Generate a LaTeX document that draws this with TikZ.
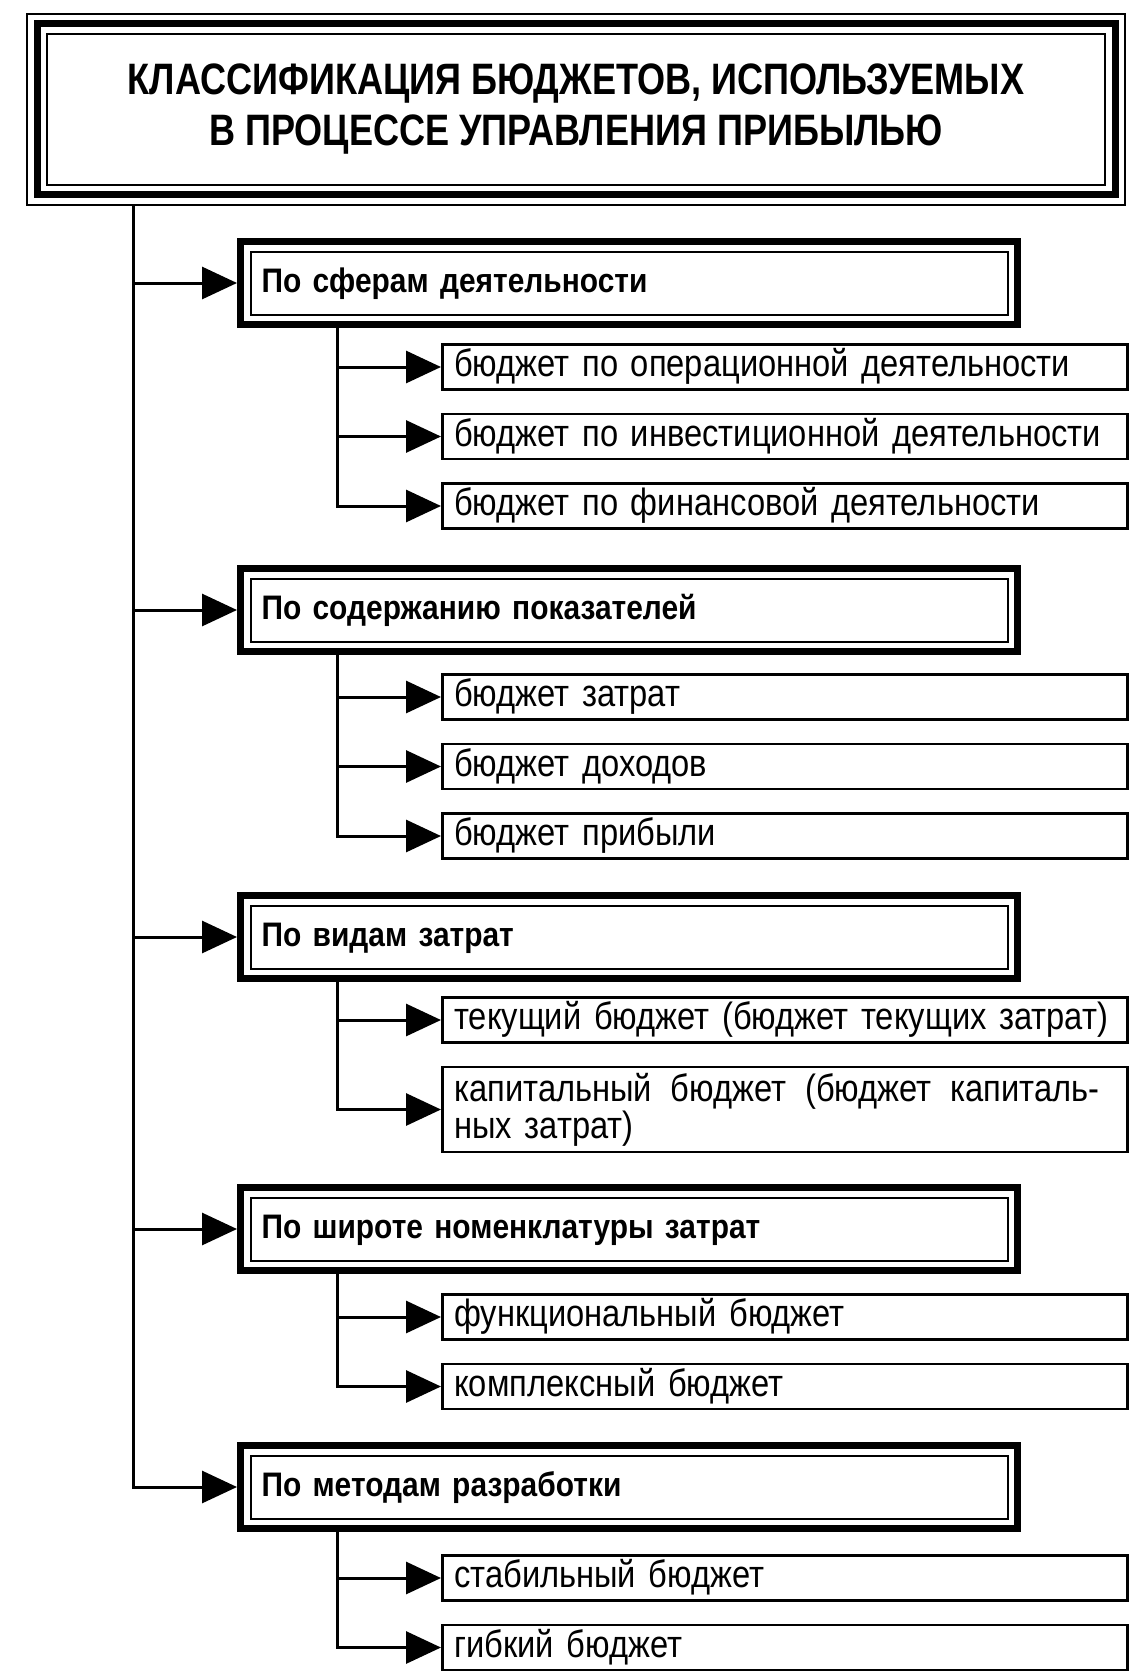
\documentclass[tikz,border=0pt]{standalone}
\usepackage{fontspec}
\setmainfont{Liberation Sans}[FakeStretch=0.86]
\newfontfamily\catfont{Liberation Sans}[FakeStretch=0.88]
\newfontfamily\headfont{Liberation Sans}[FakeStretch=0.82]
\usetikzlibrary{
	positioning,
	arrows.meta
}

\begin{document}
\begin{tikzpicture}[
		x=1pt, y=1pt,
		titlebox/.style={draw, line width=7pt, minimum width=1078pt, minimum height=171pt,
			align=center, font=\headfont\bfseries\fontsize{44}{51}\selectfont},
		catbox/.style={draw, line width=7pt, anchor=west, text width=735pt, inner xsep=21pt,
			inner ysep=0pt, minimum height=83pt, text height=26pt, text depth=8pt,
			align=left, font=\catfont\bfseries\fontsize{34}{40}\selectfont},
		subbox/.style={draw, line width=2.5pt, anchor=west, text width=661pt, inner xsep=12pt,
			inner ysep=0pt, minimum height=45pt, text height=28pt, text depth=9pt,
			align=left, font=\fontsize{38}{37}\selectfont},
		inline/.style={line width=2pt},
		conn/.style={line width=3pt},
		arr/.style={conn, -{Triangle[length=35pt, width=32pt]}},
		node distance=22pt
	]
	\useasboundingbox (0,0) rectangle (1142,-1673);

	\node[titlebox] (title) at (576,-109)
		{КЛАССИФИКАЦИЯ БЮДЖЕТОВ, ИСПОЛЬЗУЕМЫХ\\В ПРОЦЕССЕ УПРАВЛЕНИЯ ПРИБЫЛЬЮ};
	\draw[inline] ([shift={(-6.5pt,6.5pt)}]title.north west) rectangle ([shift={(6.5pt,-6.5pt)}]title.south east);

	\node[catbox] (c1) at (237,-283)  {По сферам деятельности};
	\node[catbox] (c2) at (237,-610)  {По содержанию показателей};
	\node[catbox] (c3) at (237,-937)  {По видам затрат};
	\node[catbox] (c4) at (237,-1229) {По широте номенклатуры затрат};
	\node[catbox] (c5) at (237,-1487) {По методам разработки};

	\foreach \n in {title,c1,c2,c3,c4,c5}
		\draw[inline] ([shift={(13.5pt,-13.5pt)}]\n.north west) rectangle ([shift={(-13.5pt,13.5pt)}]\n.south east);

	\node[subbox]                 (s1a) at (441,-367) {бюджет по операционной деятельности};
	\node[subbox, below=of s1a]   (s1b)               {бюджет по инвестиционной деятельности};
	\node[subbox, below=of s1b]   (s1c)               {бюджет по финансовой деятельности};

	\node[subbox]                 (s2a) at (441,-697) {бюджет затрат};
	\node[subbox, below=of s2a]   (s2b)               {бюджет доходов};
	\node[subbox, below=of s2b]   (s2c)               {бюджет прибыли};

	\node[subbox]                 (s3a) at (441,-1020) {текущий бюджет (бюджет текущих затрат)};
	\node[subbox, below=of s3a, text height=, text depth=, minimum height=85pt]
		(s3b) {\makebox[645pt][l]{капитальный\hfill бюджет\hfill (бюджет\hfill капиталь-}\\ных затрат)};

	\node[subbox]                 (s4a) at (441,-1317) {функциональный бюджет};
	\node[subbox, below=of s4a]   (s4b)               {комплексный бюджет};

	\node[subbox]                 (s5a) at (441,-1578) {стабильный бюджет};
	\node[subbox, below=of s5a]   (s5b)               {гибкий бюджет};

	\coordinate (t0) at (133,-204);
	\draw[arr] (t0) |- (c5.west);
	\foreach \c in {c1,c2,c3,c4}
		\draw[arr] (t0 |- \c.west) -- (\c.west);

	\coordinate (t1) at ([xshift=100pt]c1.south west);
	\coordinate (t2) at ([xshift=100pt]c2.south west);
	\coordinate (t3) at ([xshift=100pt]c3.south west);
	\coordinate (t4) at ([xshift=100pt]c4.south west);
	\coordinate (t5) at ([xshift=100pt]c5.south west);

	\draw[arr] (t1) |- (s1c.west);
	\draw[arr] (t1 |- s1a.west) -- (s1a.west);
	\draw[arr] (t1 |- s1b.west) -- (s1b.west);

	\draw[arr] (t2) |- (s2c.west);
	\draw[arr] (t2 |- s2a.west) -- (s2a.west);
	\draw[arr] (t2 |- s2b.west) -- (s2b.west);

	\draw[arr] (t3) |- (s3b.west);
	\draw[arr] (t3 |- s3a.west) -- (s3a.west);

	\draw[arr] (t4) |- (s4b.west);
	\draw[arr] (t4 |- s4a.west) -- (s4a.west);

	\draw[arr] (t5) |- (s5b.west);
	\draw[arr] (t5 |- s5a.west) -- (s5a.west);
\end{tikzpicture}
\end{document}
